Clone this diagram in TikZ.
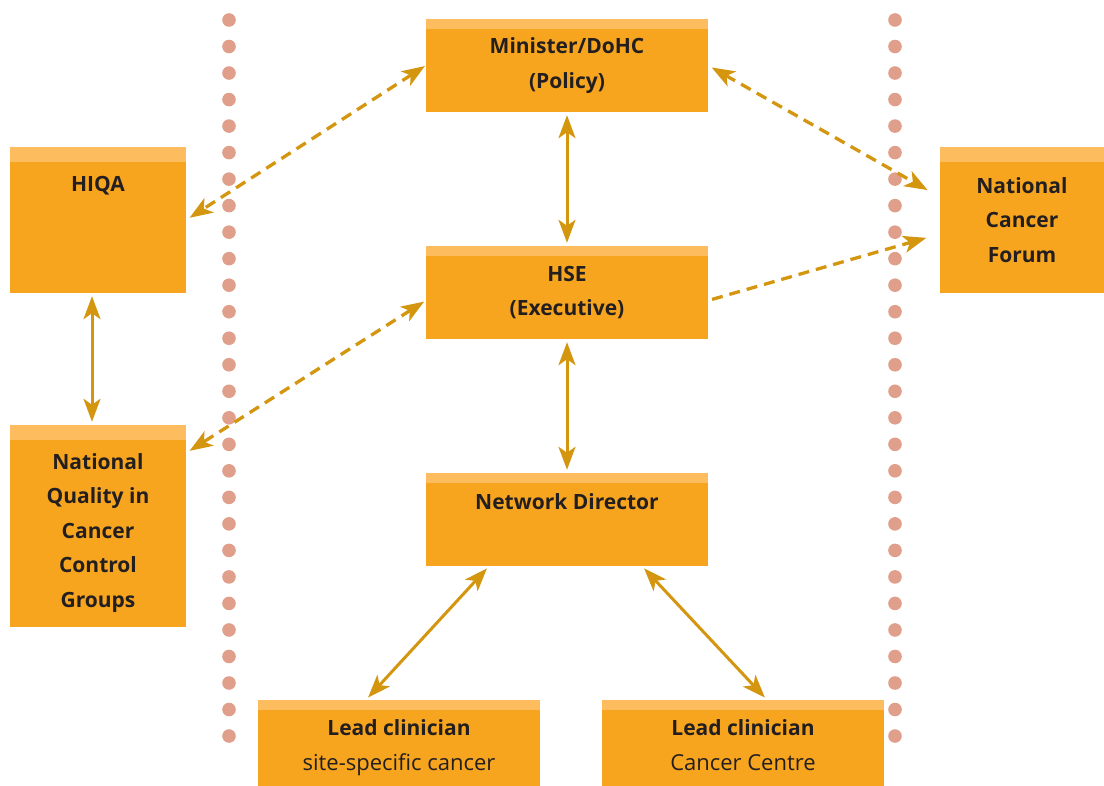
\documentclass[tikz,border=0pt]{standalone}
\usepackage{fontspec}
\setmainfont{Open Sans}
\usetikzlibrary{arrows.meta}
\definecolor{boxfill}{HTML}{F7A51E}
\definecolor{boxtop}{HTML}{FDBC5E}
\definecolor{linkcol}{HTML}{D4950F}
\definecolor{dotcol}{HTML}{E09F8A}
\definecolor{textcol}{HTML}{231F20}

\begin{document}
\begin{tikzpicture}[x=1pt,y=-1pt,>={Stealth[length=23pt,width=17pt,inset=6pt]}]
      \tikzset{box/.style={fill=boxfill, minimum width=282pt, minimum height=93pt, inner sep=0pt,
          align=center, text=textcol, font=\fontsize{21}{34.5}\selectfont\bfseries,
          path picture={\fill[boxtop] (path picture bounding box.north west)
            rectangle ([yshift=-#1]path picture bounding box.north east);}},
        box/.default=10pt,
        leadbox/.style={box, minimum height=86pt, text height=70pt, text depth=16pt},
        sidebox/.style={box=15pt, minimum width=176pt, minimum height=146pt},
        link/.style={color=linkcol, line width=3pt, shorten <=3pt, shorten >=3pt},
        dlink/.style={link, line width=3.3pt, dash pattern=on 11pt off 7pt}}
      \useasboundingbox (0,0) rectangle (1104,786);
      % dotted dividers
      \foreach \k in {0,...,27} {
        \fill[dotcol] (229,20+26.52*\k) circle (6.8pt);
        \fill[dotcol] (895,20+26.52*\k) circle (6.8pt);
      }
      \node[box] (min) at (567,65.5) {Minister/DoHC\\(Policy)};
      \node[box] (hse) at (567,292.5) {HSE\\(Executive)};
      \node[box, text height=36pt, text depth=57pt] (net) at (567,519.5) {Network Director};
      \node[leadbox] (leada) at (399,743) {Lead clinician\\\fontsize{22}{34.5}\selectfont\mdseries site-specific cancer};
      \node[leadbox] (leadb) at (743,743) {Lead clinician\\\fontsize{22}{34.5}\selectfont\mdseries Cancer Centre};
      \node[sidebox, text height=44.5pt, text depth=101.5pt] (hiqa) at (98,220) {HIQA};
      \node[sidebox, minimum width=164pt] (ncf) at (1022,220) {National\\Cancer\\Forum};
      \node[sidebox, text height=182pt, text depth=20pt] (nq) at (98,526) {National\\Quality in\\Cancer\\Control\\Groups};
      % links
      \draw[link,<->] (min) -- (hse);
      \draw[link,<->] (hse) -- (net);
      \draw[link,<->] ([xshift=-6pt]hiqa.south) -- ([xshift=-6pt]nq.north);
      \draw[link,<->] ([xshift=-78pt]net.south) -- ([xshift=-33pt]leada.north);
      \draw[link,<->] ([xshift=75pt]net.south) -- ([xshift=24pt]leadb.north);
      \draw[dlink,<->, shorten <=1pt, shorten >=4pt] (min.west) -- (hiqa.east);
      \draw[dlink,<->, shorten <=4pt, shorten >=14pt] (min.east) -- ([yshift=23pt]ncf.west);
      \draw[dlink,->, shorten <=4pt, shorten >=14pt] ([yshift=-8pt]hse.east) -- ([yshift=-14pt]ncf.west);
      \draw[dlink,<->, shorten <=2pt, shorten >=4pt] ([yshift=-8pt]hse.west) -- ([yshift=73pt]nq.east);
\end{tikzpicture}
\end{document}
